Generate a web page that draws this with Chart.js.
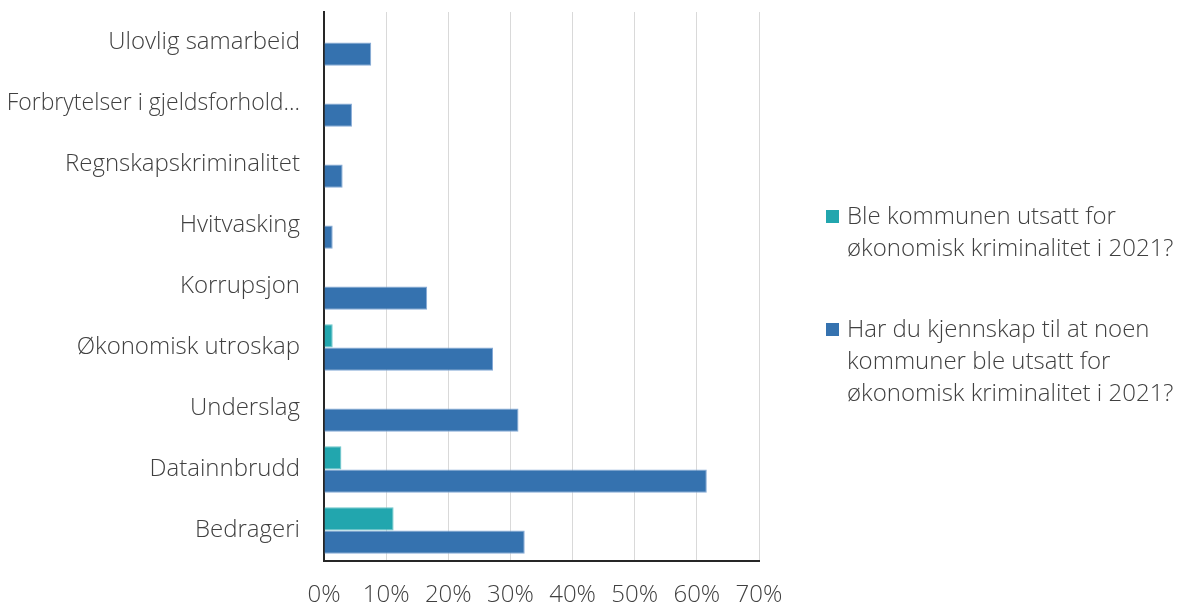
<!DOCTYPE html>
<html>
<head>
<meta charset="utf-8">
<script src="https://cdn.jsdelivr.net/npm/chart.js@4/dist/chart.umd.min.js"></script>
<style>
  html, body { margin: 0; padding: 0; background: #fff; }
  #wrap { position: relative; width: 1179px; height: 605px; overflow: hidden; }
  #legend { position: absolute; left: 826px; top: 199px; font-family: "Open Sans", sans-serif; font-weight: 300; font-size: 24px; color: #404040; line-height: 32px; white-space: nowrap; }
  .item { position: relative; padding-left: 21px; }
  .box { position: absolute; left: 0; top: 11px; width: 13px; height: 13px; }
</style>
</head>
<body>
<div id="wrap">
  <canvas id="c" width="1179" height="605"></canvas>
  <div id="legend"></div>
</div>
<script>
const categories = ["Ulovlig samarbeid", "Forbrytelser i gjeldsforhold…", "Regnskapskriminalitet", "Hvitvasking", "Korrupsjon", "Økonomisk utroskap", "Underslag", "Datainnbrudd", "Bedrageri"];
const seriesNames = [
  ["Ble kommunen utsatt for", "økonomisk kriminalitet i 2021?"],
  ["Har du kjennskap til at noen", "kommuner ble utsatt for", "økonomisk kriminalitet i 2021?"]
];
const kommunenValues = [null, null, null, null, null, 1.4, null, 2.8, 11.2];
const kjennskapValues = [7.6, 4.5, 3.0, 1.4, 16.6, 27.2, 31.3, 61.6, 32.3];
const xTicks = [0, 10, 20, 30, 40, 50, 60, 70];

const colors = ["#22A6AE", "#3572AF"];
const borders = ["#6cc6cb", "#86aad6"];
const textColor = "#404040";
const fontFamily = "'Open Sans', sans-serif";

const datasets = [kommunenValues, kjennskapValues].map((vals, i) => ({
  label: seriesNames[i].join(" "),
  data: vals,
  backgroundColor: colors[i],
  borderColor: borders[i],
  borderWidth: 1,
  borderSkipped: "start",
  categoryPercentage: 0.76,
  barPercentage: 1
}));

new Chart(document.getElementById("c"), {
  type: "bar",
  data: { labels: categories, datasets },
  options: {
    indexAxis: "y",
    responsive: false,
    animation: false,
    layout: { padding: { top: 12, right: 420, left: 0, bottom: 0 } },
    plugins: { legend: { display: false }, tooltip: { enabled: false } },
    scales: {
      x: {
        min: 0, max: 70,
        afterBuildTicks(scale) { scale.ticks = xTicks.map(v => ({ value: v })); },
        afterFit(scale) { scale.height = 44; },
        ticks: { callback: v => v + "%", color: textColor, font: { family: fontFamily, size: 24, weight: 300 }, padding: 20, maxRotation: 0 },
        grid: { color: "#d9d9d9", lineWidth: 1, drawTicks: false },
        border: { display: true, color: "#262626", width: 2 }
      },
      y: {
        afterFit(scale) { scale.width = 324; scale.paddingTop = 0; scale.paddingBottom = 0; },
        ticks: {
          color: textColor,
          font: ctx => ({ family: fontFamily, size: (ctx.tick && ctx.tick.label && ctx.tick.label.length > 25) ? 23 : 24, weight: 300 }),
          padding: 24
        },
        grid: { display: false, drawTicks: false },
        border: { display: true, color: "#262626", width: 2 }
      }
    }
  }
});

const legend = document.getElementById("legend");
seriesNames.forEach((lines, i) => {
  const item = document.createElement("div");
  item.className = "item";
  item.style.marginBottom = i === 0 ? "49px" : "0";
  const box = document.createElement("span");
  box.className = "box";
  box.style.background = colors[i];
  item.appendChild(box);
  lines.forEach(t => { const d = document.createElement("div"); d.textContent = t; item.appendChild(d); });
  legend.appendChild(item);
});
</script>
</body>
</html>
